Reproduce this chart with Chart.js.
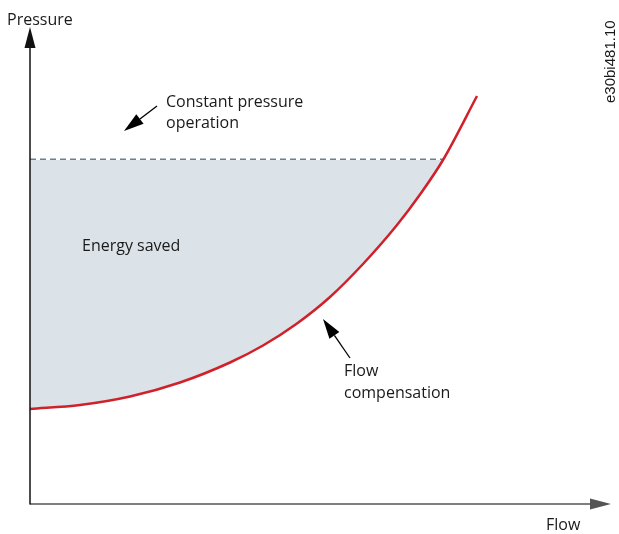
<!DOCTYPE html>
<html>
<head>
<meta charset="utf-8">
<script src="https://cdn.jsdelivr.net/npm/chart.js@4/dist/chart.umd.min.js"></script>
<style>
  html, body { margin: 0; padding: 0; background: #fff; }
  #wrap { width: 619px; height: 534px; position: relative; }
</style>
</head>
<body>
<div id="wrap"><canvas id="chart" width="619" height="534"></canvas></div>
<script>
// Datos de la curva (flujo vs presión), unidades relativas
const flowValues = [0, 50, 100, 150, 200, 233, 267, 300, 333, 367, 390, 413, 447];
const pressureValues = [95, 99, 107.5, 121.5, 141.5, 158.5, 180.5, 207, 240, 279, 309.5, 344, 408];

// Línea de presión constante
const constantFlow = [0, 413];
const constantPressure = [344, 344];

// Rangos de los ejes
const flowRange = [0, 581];
const pressureRange = [0, 477];

const FONT = '"Open Sans", "Noto Sans", sans-serif';

// Construir puntos
const curvePoints = flowValues.map((x, i) => ({ x: x, y: pressureValues[i] }));
const constantPoints = constantFlow.map((x, i) => ({ x: x, y: constantPressure[i] }));

// Flecha con cabeza rellena
function drawArrow(ctx, x1, y1, x2, y2, headLen, headHalf, width, color) {
    const ang = Math.atan2(y2 - y1, x2 - x1);
    const bx = x2 - headLen * Math.cos(ang);
    const by = y2 - headLen * Math.sin(ang);
    ctx.save();
    ctx.strokeStyle = color;
    ctx.fillStyle = color;
    ctx.lineWidth = width;
    ctx.beginPath();
    ctx.moveTo(x1, y1);
    ctx.lineTo(bx, by);
    ctx.stroke();
    ctx.beginPath();
    ctx.moveTo(x2, y2);
    ctx.lineTo(bx + headHalf * Math.sin(ang), by - headHalf * Math.cos(ang));
    ctx.lineTo(bx - headHalf * Math.sin(ang), by + headHalf * Math.cos(ang));
    ctx.closePath();
    ctx.fill();
    ctx.restore();
}

// Ejes, flechas y textos
const decorPlugin = {
    id: 'decor',
    afterDatasetsDraw(chart) {
        const ctx = chart.ctx;
        const xs = chart.scales.x;
        const ys = chart.scales.y;
        const x0 = xs.getPixelForValue(flowRange[0]);
        const x1 = xs.getPixelForValue(flowRange[1]);
        const y0 = ys.getPixelForValue(pressureRange[0]);
        const y1 = ys.getPixelForValue(pressureRange[1]);

        // Eje X (gris) y eje Y (negro)
        drawArrow(ctx, x0, y0, x1, y0, 21, 5.5, 1.5, '#555');
        drawArrow(ctx, x0, y0 + 0.5, x0, y1, 21, 5.5, 1.5, '#111');

        // Flechas de anotación
        drawArrow(ctx, 157, 106, 124, 131, 20, 6, 1.3, '#000');
        drawArrow(ctx, 350, 358, 323, 319, 20, 6, 1.3, '#000');

        ctx.save();
        ctx.fillStyle = '#1a1a1a';
        ctx.font = '16px ' + FONT;
        ctx.textBaseline = 'alphabetic';
        ctx.fillText('Pressure', 7, 25);
        ctx.fillText('Flow', 546, 530);
        ctx.fillText('Constant pressure', 166, 107);
        ctx.fillText('operation', 166, 128);
        ctx.fillText('Energy saved', 82, 251);
        ctx.fillText('Flow', 344, 376);
        ctx.fillText('compensation', 344, 398);

        // Código de figura vertical
        ctx.translate(615, 103);
        ctx.rotate(-Math.PI / 2);
        ctx.font = '15px "Liberation Sans", Arial, sans-serif';
        ctx.fillText('e30bi481.10', 0, 0);
        ctx.restore();
    }
};

const ctx = document.getElementById('chart').getContext('2d');
new Chart(ctx, {
    type: 'line',
    data: {
        datasets: [
            {
                label: 'Flow compensation',
                data: curvePoints,
                borderColor: '#d0212b',
                borderWidth: 2.5,
                pointRadius: 0,
                cubicInterpolationMode: 'monotone',
                fill: { target: { value: constantPressure[0] }, above: 'rgba(0,0,0,0)', below: '#dce3e8' },
                clip: 4
            },
            {
                label: 'Constant pressure operation',
                data: constantPoints,
                borderColor: '#6f808b',
                borderWidth: 3,
                borderDash: [6, 4],
                pointRadius: 0,
                fill: false,
                clip: 4
            }
        ]
    },
    options: {
        responsive: false,
        animation: false,
        layout: { padding: { left: 30, right: 8, top: 27, bottom: 30 } },
        plugins: {
            legend: { display: false },
            tooltip: { enabled: false }
        },
        scales: {
            x: { type: 'linear', min: flowRange[0], max: flowRange[1], display: false },
            y: { type: 'linear', min: pressureRange[0], max: pressureRange[1], display: false }
        }
    },
    plugins: [decorPlugin]
});
</script>
</body>
</html>
